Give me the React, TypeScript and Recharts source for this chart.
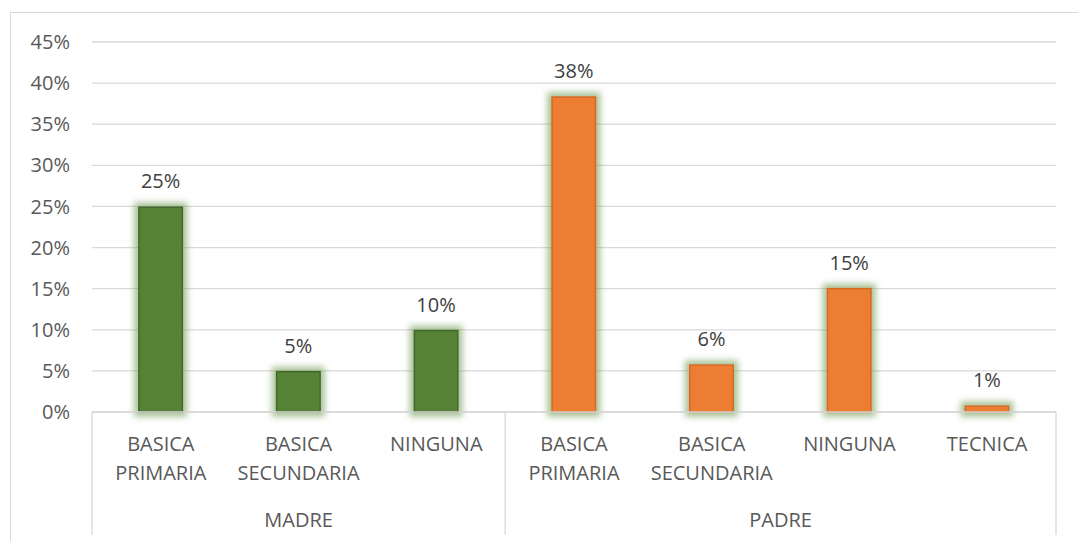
import React from "react";
import { BarChart, Bar, XAxis, YAxis, CartesianGrid, Cell, LabelList } from "recharts";

const categories = ["BASICA PRIMARIA", "BASICA SECUNDARIA", "NINGUNA", "BASICA PRIMARIA", "BASICA SECUNDARIA", "NINGUNA", "TECNICA"];
const groups = ["MADRE", "MADRE", "MADRE", "PADRE", "PADRE", "PADRE", "PADRE"];
const values = [25, 5, 10, 38.4, 5.8, 15.1, 0.8];
const valueLabels = ["25%", "5%", "10%", "38%", "6%", "15%", "1%"];
const yTicks = [0, 5, 10, 15, 20, 25, 30, 35, 40, 45];

const groupColors: Record<string, string> = { MADRE: "#548235", PADRE: "#ED7D31" };
const groupStroke: Record<string, string> = { MADRE: "#43692a", PADRE: "#d46a25" };

const data = categories.map((c, i) => ({
  key: `${groups[i]}-${c}`,
  cat: c,
  group: groups[i],
  value: values[i],
  label: valueLabels[i],
}));

const FONT = "'Open Sans', sans-serif";

const GlowBar = (props: any) => {
  const { x, y, width, height, fill, stroke } = props;
  if (!height || height <= 0) return null;
  return (
    <rect
      x={x + 0.75}
      y={y + 0.75}
      width={Math.max(width - 1.5, 0)}
      height={Math.max(height - 0.75, 0)}
      fill={fill}
      stroke={stroke}
      strokeWidth={1.5}
      filter="url(#greenGlow)"
    />
  );
};

const CatTick = (props: any) => {
  const { x, y, payload } = props;
  const idx: number = payload.index;
  const half: number = payload.offset || 68.86;
  const words = String(data[idx].cat).split(" ");
  const els: any[] = [];
  words.forEach((w, k) => {
    els.push(
      <text key={"w" + k} x={x} y={y + 39 + k * 29} textAnchor="middle" fill="#595959" fontSize={20} fontFamily={FONT}>
        {w}
      </text>
    );
  });
  const lineStyle = { stroke: "#d9d9d9", strokeWidth: 1.3 };
  if (idx === 0) {
    els.push(<line key="l0" x1={x - half} x2={x - half} y1={y} y2={y + 123} {...lineStyle} />);
  }
  if (idx === 3) {
    els.push(<line key="l3" x1={x - half} x2={x - half} y1={y} y2={y + 123} {...lineStyle} />);
  }
  if (idx === 6) {
    els.push(<line key="l6" x1={x + half} x2={x + half} y1={y} y2={y + 123} {...lineStyle} />);
  }
  if (idx === 1) {
    els.push(
      <text key="g" x={x} y={y + 115} textAnchor="middle" fill="#595959" fontSize={20} fontFamily={FONT}>
        {groups[idx]}
      </text>
    );
  }
  if (idx === 4) {
    els.push(
      <text key="g" x={x + half} y={y + 115} textAnchor="middle" fill="#595959" fontSize={20} fontFamily={FONT}>
        {groups[idx]}
      </text>
    );
  }
  return <g>{els}</g>;
};

export default function App() {
  return (
    <div style={{ position: "fixed", left: 0, top: 0, width: 1078, height: 541, overflow: "hidden", background: "#fff" }}>
      <div
        style={{
          position: "absolute",
          left: 10,
          top: 12,
          width: 1100,
          height: 600,
          borderLeft: "1.5px solid #d9d9d9",
          borderTop: "1.5px solid #d9d9d9",
          boxSizing: "border-box",
        }}
      />
      <div style={{ position: "absolute", left: 0, top: 0 }}>
        <BarChart
          width={1078}
          height={541}
          data={data}
          margin={{ top: 42, right: 22, bottom: 0, left: 12 }}
          barCategoryGap="33.5%"
        >
          <defs>
            <filter id="greenGlow" filterUnits="userSpaceOnUse" x="0" y="0" width="1078" height="541">
              <feMorphology in="SourceAlpha" operator="dilate" radius="3.5" result="dil" />
              <feGaussianBlur in="dil" stdDeviation="3" result="blur" />
              <feFlood floodColor="#6f9a52" floodOpacity="0.6" result="col" />
              <feComposite in="col" in2="blur" operator="in" result="glow" />
              <feMerge>
                <feMergeNode in="glow" />
                <feMergeNode in="SourceGraphic" />
              </feMerge>
            </filter>
          </defs>
          <CartesianGrid vertical={false} stroke="#d9d9d9" strokeWidth={1.3} />
          <YAxis
            type="number"
            domain={[0, 45]}
            ticks={yTicks}
            width={80}
            axisLine={false}
            tickLine={false}
            tickSize={0}
            tickMargin={22}
            tickFormatter={(v: number) => `${v}%`}
            tick={{ fill: "#595959", fontSize: 20, fontFamily: FONT }}
            interval={0}
          />
          <XAxis
            dataKey="key"
            type="category"
            height={129}
            interval={0}
            tickLine={false}
            tickSize={0}
            tickMargin={0}
            axisLine={{ stroke: "#d9d9d9", strokeWidth: 1.3 }}
            tick={<CatTick />}
          />
          <Bar dataKey="value" isAnimationActive={false} shape={<GlowBar />}>
            {data.map((d, i) => (
              <Cell key={i} fill={groupColors[d.group]} stroke={groupStroke[d.group]} />
            ))}
            <LabelList dataKey="label" position="top" offset={18} fill="#404040" fontSize={20} fontFamily={FONT} />
          </Bar>
        </BarChart>
      </div>
    </div>
  );
}
